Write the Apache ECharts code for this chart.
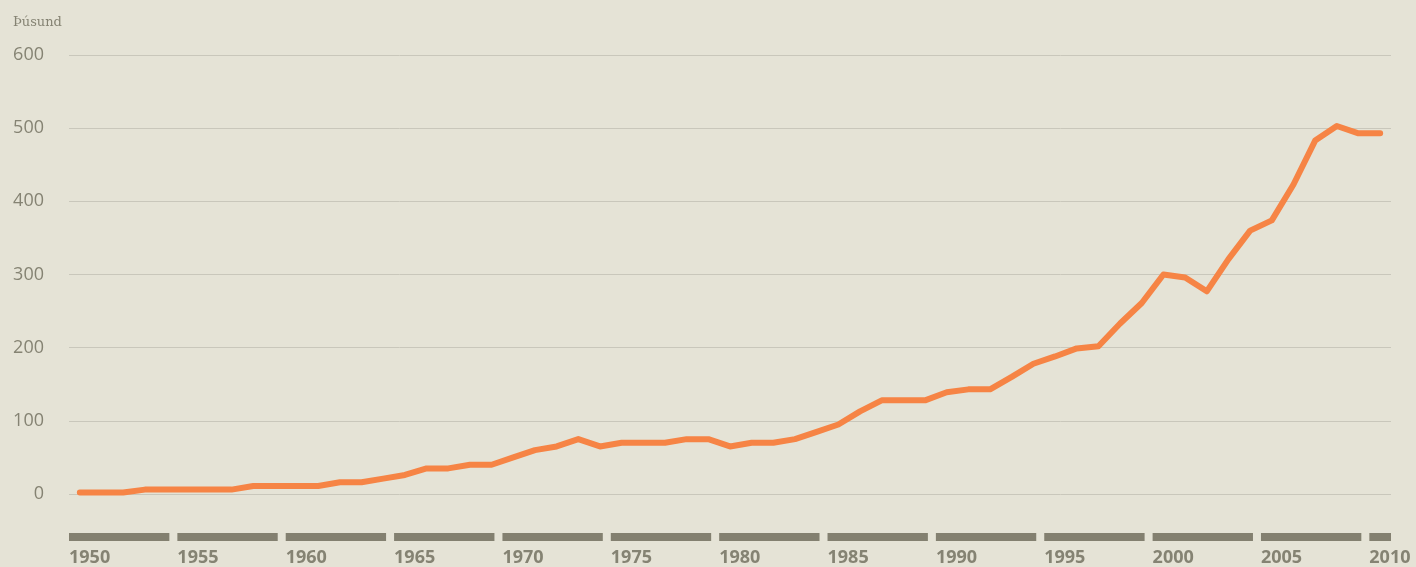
<!DOCTYPE html>
<html>
<head>
<meta charset="utf-8">
<script src="https://cdn.jsdelivr.net/npm/echarts@6/dist/echarts.min.js"></script>
<style>
  html, body { margin: 0; padding: 0; background: #e5e3d6; }
  #chart { width: 1416px; height: 567px; }
</style>
</head>
<body>
<div id="chart"></div>
<script>
// years 1950 - 2010
var years = []
for (var y = 1950; y <= 2010; y++) years.push(String(y))

// values in thousands
var values = [
  2, 2, 2, 6, 6, 6, 6, 6, 11, 11,          // 1950-1959
  11, 11, 16, 16, 21, 26, 35, 35, 40, 40,  // 1960-1969
  50, 60, 65, 75, 65, 70, 70, 70, 75, 75,  // 1970-1979
  65, 70, 70, 75, 85, 95, 113, 128, 128, 128, // 1980-1989
  139, 143, 143, 160, 178, 188, 199, 202, 233, 261, // 1990-1999
  300, 296, 277, 321, 360, 374, 423, 483, 503, 493, // 2000-2009
  493                                       // 2010
]

// five-year blocks under the axis
var blockStarts = [1950, 1955, 1960, 1965, 1970, 1975, 1980, 1985, 1990, 1995, 2000, 2005, 2010]

var textColor = '#858373'

var chart = echarts.init(document.getElementById('chart'))

function renderBlock(params, api) {
  var cs = params.coordSys
  var start = api.coord([api.value(0), 0])[0]
  var end = api.coord([api.value(0) + 5, 0])[0] - 8
  var right = cs.x + cs.width
  if (end > right) end = right
  return {
    type: 'rect',
    shape: { x: start, y: cs.y + cs.height + 39, width: end - start, height: 8 },
    style: { fill: '#838070' }
  }
}

chart.setOption({
  backgroundColor: '#e5e3d6',
  animation: false,
  title: {
    text: 'Þúsund',
    left: 8,
    top: 11,
    textStyle: { fontFamily: 'DejaVu Serif', fontSize: 13, fontWeight: 'normal', color: textColor }
  },
  grid: { left: 69, right: 25, top: 55, bottom: 72 },
  xAxis: [{
    type: 'category',
    data: years,
    show: false,
    boundaryGap: true
  }, {
    type: 'value',
    min: 1950,
    max: 2011,
    interval: 5,
    position: 'bottom',
    splitLine: { show: false },
    axisLine: { show: false },
    axisTick: { show: false },
    axisLabel: {
      margin: 55,
      align: 'left',
      color: textColor,
      fontFamily: 'Open Sans',
      fontSize: 18,
      fontWeight: 'bold',
      formatter: function (v) { return v % 5 === 0 ? String(v) : '' }
    }
  }],
  yAxis: {
    type: 'value',
    min: 0,
    max: 600,
    interval: 100,
    axisLine: { show: false },
    axisTick: { show: false },
    axisLabel: { margin: 25, color: textColor, fontFamily: 'Open Sans', fontSize: 18 },
    splitLine: { lineStyle: { color: '#c9c7bb', width: 1 } }
  },
  series: [{
    type: 'line',
    data: values,
    xAxisIndex: 0,
    symbol: 'none',
    lineStyle: { color: '#f68445', width: 6, cap: 'round', join: 'round' }
  }, {
    type: 'custom',
    xAxisIndex: 1,
    renderItem: renderBlock,
    clip: false,
    data: blockStarts
  }]
})
</script>
</body>
</html>
